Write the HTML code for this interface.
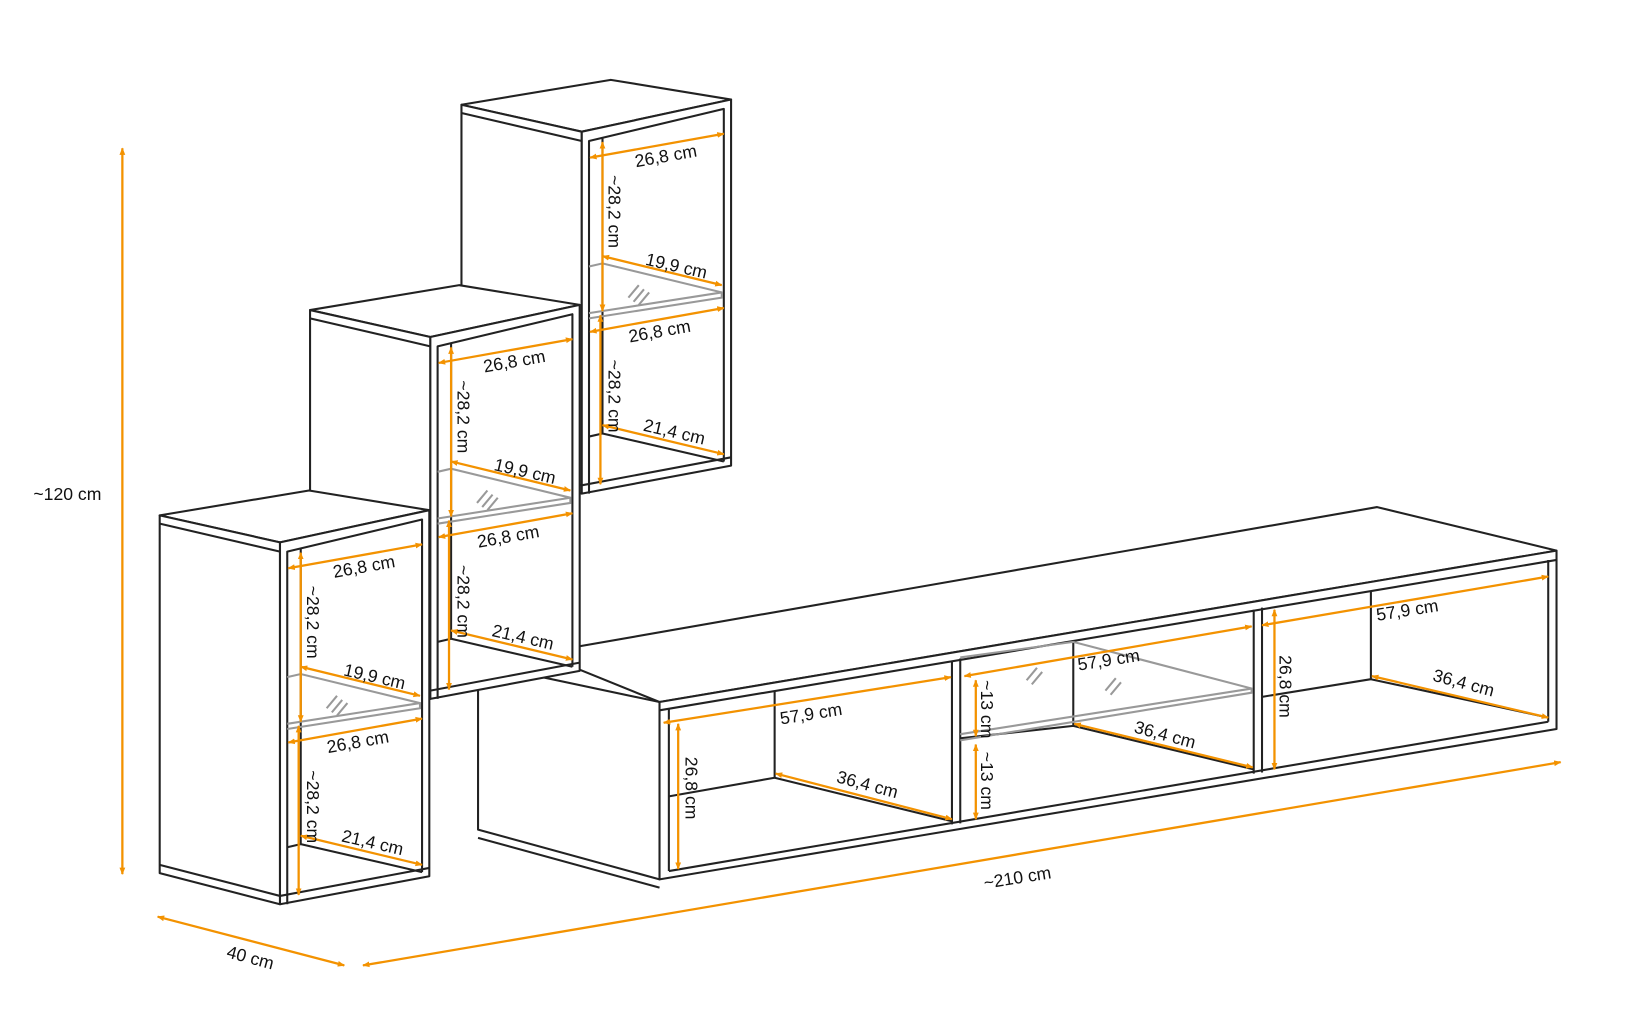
<!DOCTYPE html>
<html><head><meta charset="utf-8"><style>
html,body{margin:0;padding:0;background:#fff;}
svg{display:block;font-family:"Liberation Sans",sans-serif;}
.l{stroke:#222;stroke-width:2;fill:none;stroke-linejoin:round}
.w{fill:#fff;stroke:#222;stroke-width:2;stroke-linejoin:round}
.g{stroke:#999;stroke-width:2;fill:none}
.o{stroke:#f39200;stroke-width:2.2;fill:none;marker-start:url(#a);marker-end:url(#a)}
text{font-size:17px;fill:#111}
</style></head><body>
<svg width="1626" height="1024" viewBox="0 0 1568 987.5" preserveAspectRatio="none">
<defs>
<marker id="a" viewBox="0 0 10 10" refX="9" refY="5" markerWidth="7" markerHeight="7" orient="auto-start-reverse" markerUnits="userSpaceOnUse"><path d="M0,1 L10,5 L0,9 z" fill="#f39200"/></marker>
<g id="cab">
  <polygon class="w" points="-116,-26 28,-50 144,-31 0,0"/>
  <polygon class="w" points="-116,-26 0,0 0,349 -116,319"/>
  <polygon class="w" points="0,0 144,-31 144,322 0,349"/>
  <line class="l" x1="-116" y1="-18" x2="0" y2="9"/>
  <polyline class="l" points="7,349 7,9 137,-22 137,318"/>
  <line class="l" x1="0" y1="341" x2="144" y2="314"/>
  <line class="l" x1="-116" y1="311" x2="0" y2="341"/>
  <line class="l" x1="20" y1="6" x2="20" y2="291"/>
  <line class="l" x1="7" y1="294" x2="20" y2="291"/>
  <line class="l" x1="20" y1="291" x2="137" y2="318"/>
  <polyline class="g" points="7,130 20,127 135,155 135,160 7,180"/>
  <line class="g" x1="7" y1="175" x2="135" y2="155"/>
  <path class="g" d="M45,160 l10,-12 M50,164 l10,-12 M55,167 l10,-12" stroke-width="1.2"/>
  <line class="o" x1="8" y1="25" x2="137" y2="2"/>
  <line class="o" x1="20" y1="10" x2="20" y2="173"/>
  <line class="o" x1="20" y1="120" x2="135" y2="148"/>
  <line class="o" x1="8" y1="193" x2="137" y2="170"/>
  <line class="o" x1="18" y1="177" x2="18" y2="340"/>
  <line class="o" x1="20" y1="283" x2="137" y2="311"/>
  <text transform="translate(82,29) rotate(-10)" text-anchor="middle">26,8 cm</text>
  <text transform="translate(26,77) rotate(90)" text-anchor="middle">~28,2 cm</text>
  <text transform="translate(90,135) rotate(13)" text-anchor="middle">19,9 cm</text>
  <text transform="translate(76,198) rotate(-10)" text-anchor="middle">26,8 cm</text>
  <text transform="translate(26,255) rotate(90)" text-anchor="middle">~28,2 cm</text>
  <text transform="translate(88,295) rotate(13)" text-anchor="middle">21,4 cm</text>
</g>
</defs>

<polygon class="w" points="461,640 636,677 636,848 461,800"/>
<line class="l" x1="461" y1="808" x2="636" y2="856"/>
<polygon class="w" points="520,630 1328,489 1501,531 636,677"/>
<polygon class="w" points="636,677 1501,531 1501,703 636,848"/>
<line class="l" x1="636" y1="685" x2="1501" y2="540"/>
<line class="l" x1="645" y1="840" x2="1493" y2="696"/>
<line class="l" x1="645" y1="684" x2="645" y2="840"/>
<line class="l" x1="1493" y1="540" x2="1493" y2="696"/>
<line class="l" x1="918" y1="637" x2="918" y2="795"/>
<line class="l" x1="926" y1="635" x2="926" y2="794"/>
<line class="l" x1="1209" y1="588" x2="1209" y2="746"/>
<line class="l" x1="1217" y1="586" x2="1217" y2="745"/>
<line class="l" x1="747" y1="667" x2="747" y2="750"/>
<polyline class="l" points="645,768 747,750 918,792"/>
<line class="l" x1="1035" y1="619" x2="1035" y2="700"/>
<polyline class="l" points="926,712 1035,700 1209,742"/>
<line class="l" x1="1322" y1="570" x2="1322" y2="655"/>
<polyline class="l" points="1217,672 1322,655 1493,692"/>
<polyline class="g" points="926,634 1035,619 1207,664 1207,668 926,714"/>
<line class="g" x1="926" y1="708" x2="1207" y2="664"/>
<path class="g" d="M990,656 l10,-12 M995,660 l10,-12 M1066,666 l10,-12 M1071,670 l10,-12" stroke-width="1.2"/>

<use href="#cab" transform="translate(561,127)"/>
<use href="#cab" transform="translate(415,325)"/>
<use href="#cab" transform="translate(270,523)"/>

<line class="o" x1="640" y1="697" x2="917" y2="653"/>
<line class="o" x1="654" y1="698" x2="654" y2="838"/>
<line class="o" x1="748" y1="746" x2="918" y2="790"/>
<line class="o" x1="930" y1="652" x2="1207" y2="604"/>
<line class="o" x1="941" y1="656" x2="941" y2="710"/>
<line class="o" x1="941" y1="718" x2="941" y2="790"/>
<line class="o" x1="1036" y1="698" x2="1208" y2="740"/>
<line class="o" x1="1217" y1="603" x2="1493" y2="556"/>
<line class="o" x1="1229" y1="588" x2="1229" y2="742"/>
<line class="o" x1="1323" y1="652" x2="1493" y2="692"/>
<text transform="translate(783,694) rotate(-9)" text-anchor="middle">57,9 cm</text>
<text transform="translate(661,760) rotate(90)" text-anchor="middle">26,8 cm</text>
<text transform="translate(835,762) rotate(15)" text-anchor="middle">36,4 cm</text>
<text transform="translate(1070,642) rotate(-9)" text-anchor="middle">57,9 cm</text>
<text transform="translate(946,684) rotate(90)" text-anchor="middle">~13 cm</text>
<text transform="translate(946,753) rotate(90)" text-anchor="middle">~13 cm</text>
<text transform="translate(1122,714) rotate(15)" text-anchor="middle">36,4 cm</text>
<text transform="translate(1358,594) rotate(-9)" text-anchor="middle">57,9 cm</text>
<text transform="translate(1234,662) rotate(90)" text-anchor="middle">26,8 cm</text>
<text transform="translate(1410,664) rotate(15)" text-anchor="middle">36,4 cm</text>

<line class="o" x1="118" y1="143" x2="118" y2="843"/>
<text x="65" y="482" text-anchor="middle">~120 cm</text>
<line class="o" x1="152" y1="884" x2="332" y2="931"/>
<text transform="translate(240,929) rotate(15)" text-anchor="middle">40 cm</text>
<line class="o" x1="350" y1="931" x2="1505" y2="735"/>
<text transform="translate(982,852) rotate(-9)" text-anchor="middle">~210 cm</text>
</svg>
</body></html>
